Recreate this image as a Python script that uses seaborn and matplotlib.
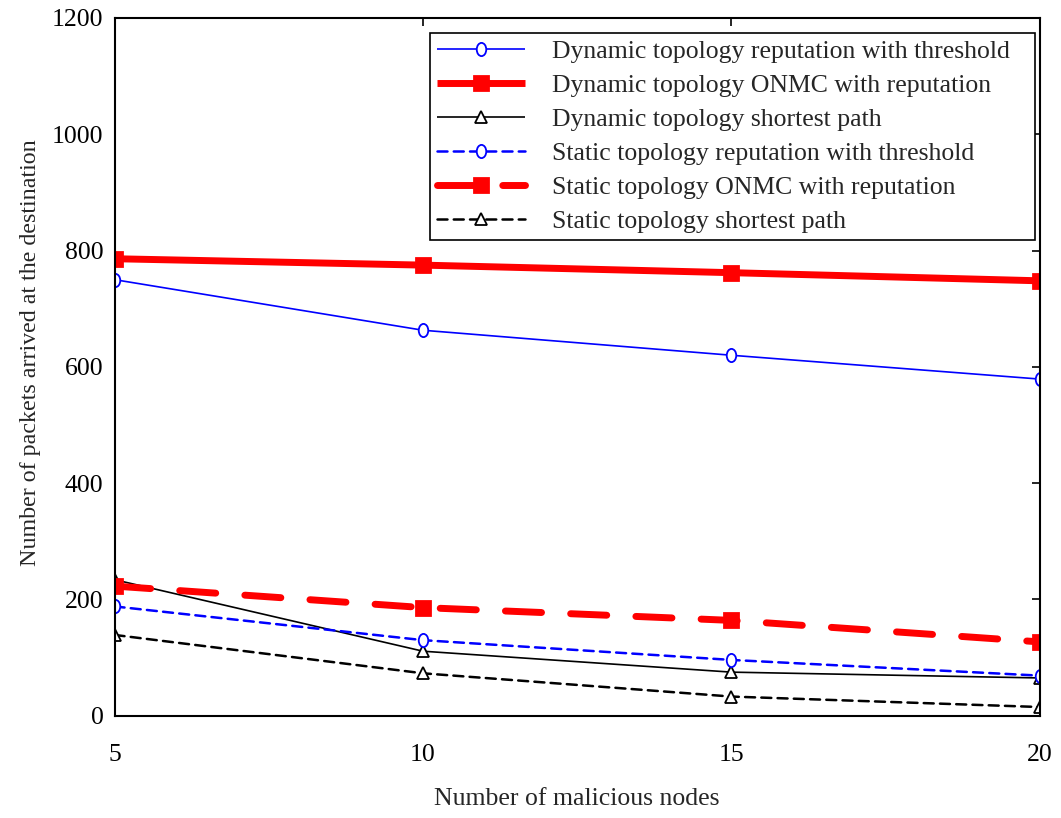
import matplotlib
matplotlib.use("Agg")
import matplotlib.pyplot as plt
import seaborn as sns
import pandas as pd
from matplotlib.path import Path
from matplotlib.transforms import Affine2D

nodes = [5, 10, 15, 20]
dyn_rep = [750, 663, 620, 579]
dyn_onmc = [786, 775, 762, 748]
dyn_short = [234, 111, 75, 65]
sta_rep = [188, 130, 96, 69]
sta_onmc = [223, 186, 164, 127]
sta_short = [139, 73, 33, 15]

labels = [
    "Dynamic topology reputation with threshold",
    "Dynamic topology ONMC with reputation",
    "Dynamic topology shortest path",
    "Static topology reputation with threshold",
    "Static topology ONMC with reputation",
    "Static topology shortest path",
]

sns.set_theme(style="white")
plt.rcParams["font.family"] = ["Liberation Serif", "DejaVu Serif"]

ellipse = Path.unit_circle().transformed(Affine2D().scale(0.72, 1.0))

fig = plt.figure(figsize=(10.61, 8.18), dpi=100)
ax = fig.add_axes([0.108, 0.125, 0.872, 0.853])

series = [dyn_rep, dyn_onmc, dyn_short, sta_rep, sta_onmc, sta_short]
styles = [
    dict(color="#0000ff", lw=1.2, marker=ellipse, ms=9.5, mfc="white", mec="#0000ff", mew=1.3, ls="-"),
    dict(color="#ff0000", lw=5, marker="s", ms=9.5, mfc="#ff0000", mec="#ff0000", mew=2, ls="-"),
    dict(color="black", lw=1.2, marker="^", ms=9, mfc="white", mec="black", mew=1.3, ls="-"),
    dict(color="#0000ff", lw=1.8, marker=ellipse, ms=9.5, mfc="white", mec="#0000ff", mew=1.3, ls=(0, (4, 2.5))),
    dict(color="#ff0000", lw=5, marker="s", ms=9.5, mfc="#ff0000", mec="#ff0000", mew=2, ls=(0, (5.2, 4.2))),
    dict(color="black", lw=1.8, marker="^", ms=9, mfc="white", mec="black", mew=1.3, ls=(0, (4, 2.5))),
]

for vals, lab, st in zip(series, labels, styles):
    df = pd.DataFrame({"x": nodes, "y": vals})
    sns.lineplot(data=df, x="x", y="y", ax=ax, label=lab,
                 color=st["color"], linewidth=st["lw"], linestyle=st["ls"],
                 marker=st["marker"], markersize=st["ms"], markerfacecolor=st["mfc"],
                 markeredgecolor=st["mec"], markeredgewidth=st["mew"],
                 dash_capstyle="round", solid_capstyle="butt")

ax.set_xlim(5, 20)
ax.set_ylim(0, 1200)
ax.set_xticks(nodes)
ax.set_yticks([0, 200, 400, 600, 800, 1000, 1200])
ax.tick_params(direction="in", top=True, right=True, labelsize=18.5, length=6, width=1.2, colors="black")
ax.tick_params(axis="x", pad=20)
ax.tick_params(axis="y", pad=8)
for s in ax.spines.values():
    s.set_color("black")
    s.set_linewidth(1.5)
ax.set_xlabel("Number of malicious nodes", fontsize=18.5, labelpad=16)
ax.set_ylabel("Number of packets arrived at the destination", fontsize=17.3, labelpad=8)
ax.yaxis.label.set_y(0.52)

leg = ax.legend(loc="upper left", bbox_to_anchor=(0.3405, 0.0, 0.654, 0.979), mode="expand",
                fontsize=18.5, frameon=True,
                fancybox=False, edgecolor="black", framealpha=1, handlelength=3.46,
                handletextpad=1.05, borderpad=0.27, labelspacing=0.43, borderaxespad=0)
leg.get_frame().set_linewidth(1.2)

fig.savefig("out.png", dpi=100)
